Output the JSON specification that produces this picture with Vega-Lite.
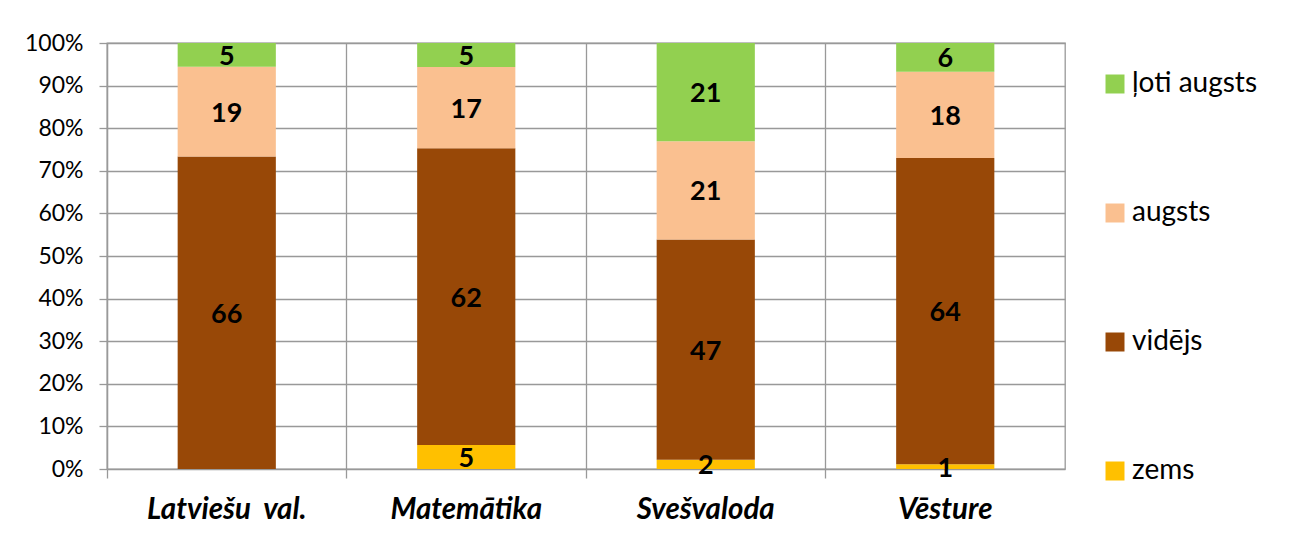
{
  "$schema": "https://vega.github.io/schema/vega-lite/v6.json",
  "width": 958,
  "height": 426,
  "autosize": {"type": "none"},
  "padding": {"left": 107, "top": 43, "right": 226, "bottom": 67},
  "background": "white",
  "config": {
    "font": "Lato",
    "view": {"stroke": "#999999", "strokeWidth": 1.3}
  },
  "data": {
    "values": [
      {"subject": "Latviešu\u00a0 val.", "level": "zems", "ord": 1, "count": 0},
      {"subject": "Latviešu\u00a0 val.", "level": "vidējs", "ord": 2, "count": 66},
      {"subject": "Latviešu\u00a0 val.", "level": "augsts", "ord": 3, "count": 19},
      {"subject": "Latviešu\u00a0 val.", "level": "ļoti augsts", "ord": 4, "count": 5},
      {"subject": "Matemātika", "level": "zems", "ord": 1, "count": 5},
      {"subject": "Matemātika", "level": "vidējs", "ord": 2, "count": 62},
      {"subject": "Matemātika", "level": "augsts", "ord": 3, "count": 17},
      {"subject": "Matemātika", "level": "ļoti augsts", "ord": 4, "count": 5},
      {"subject": "Svešvaloda", "level": "zems", "ord": 1, "count": 2},
      {"subject": "Svešvaloda", "level": "vidējs", "ord": 2, "count": 47},
      {"subject": "Svešvaloda", "level": "augsts", "ord": 3, "count": 21},
      {"subject": "Svešvaloda", "level": "ļoti augsts", "ord": 4, "count": 21},
      {"subject": "Vēsture", "level": "zems", "ord": 1, "count": 1},
      {"subject": "Vēsture", "level": "vidējs", "ord": 2, "count": 64},
      {"subject": "Vēsture", "level": "augsts", "ord": 3, "count": 18},
      {"subject": "Vēsture", "level": "ļoti augsts", "ord": 4, "count": 6}
    ]
  },
  "encoding": {
    "x": {
      "field": "subject",
      "type": "nominal",
      "sort": ["Latviešu\u00a0 val.", "Matemātika", "Svešvaloda", "Vēsture"],
      "scale": {"paddingInner": 0, "paddingOuter": 0},
      "axis": {
        "title": null,
        "domain": false,
        "grid": true,
        "gridColor": "#999999",
        "gridWidth": 1.3,
        "gridOpacity": 1,
        "bandPosition": 0,
        "ticks": true,
        "tickSize": 9,
        "tickColor": "#999999",
        "tickWidth": 1.3,
        "labelPadding": 17,
        "labelAngle": 0,
        "labelOverlap": false,
        "labelFontSize": 29.5,
        "labelFontWeight": "bold",
        "labelFontStyle": "italic",
        "labelColor": "#000000"
      }
    }
  },
  "layer": [
    {
      "mark": {"type": "bar", "width": {"band": 0.41}},
      "encoding": {
        "y": {
          "field": "count",
          "type": "quantitative",
          "stack": "normalize",
          "scale": {"domain": [0, 1]},
          "axis": {
            "title": null,
            "values": [0, 0.1, 0.2, 0.3, 0.4, 0.5, 0.6, 0.7, 0.8, 0.9, 1],
            "format": ".0%",
            "labelFontSize": 23,
            "labelColor": "#000000",
            "labelPadding": 16,
            "grid": true,
            "gridColor": "#999999",
            "gridWidth": 1.3,
            "gridOpacity": 1,
            "tickColor": "#999999",
            "tickSize": 8,
            "tickWidth": 1.3,
            "domain": true,
            "domainColor": "#999999",
            "domainWidth": 1.3
          }
        },
        "color": {
          "field": "level",
          "type": "nominal",
          "scale": {
            "domain": ["ļoti augsts", "augsts", "vidējs", "zems"],
            "range": ["#92D050", "#FAC090", "#984807", "#FFC000"]
          },
          "legend": {
            "title": null,
            "orient": "none",
            "legendX": 994,
            "legendY": 26,
            "symbolType": "square",
            "symbolSize": 361,
            "symbolStrokeWidth": 0,
            "labelFontSize": 28,
            "labelColor": "#000000",
            "labelOffset": 3,
            "clipHeight": 30,
            "rowPadding": 99,
            "padding": 0
          }
        },
        "order": {"field": "ord", "type": "quantitative"}
      }
    },
    {
      "transform": [{"filter": "datum.count > 0"}],
      "mark": {"type": "text", "fontSize": 27, "fontWeight": "bold", "baseline": "middle", "dy": 2, "color": "#000000"},
      "encoding": {
        "y": {"field": "count", "type": "quantitative", "stack": "normalize", "bandPosition": 0.5},
        "text": {"field": "count", "type": "quantitative"},
        "order": {"field": "ord", "type": "quantitative"}
      }
    }
  ]
}
